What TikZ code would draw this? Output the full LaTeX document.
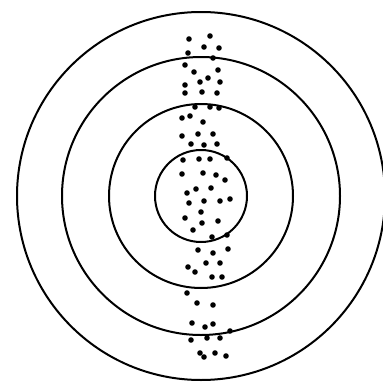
\documentclass[tikz,border=0pt]{standalone}
\usepackage{tikz}

\begin{document}
\begin{tikzpicture}[x=1pt, y=-1pt,
            ring/.style={draw=black, line width=2pt},
            hole/.style={fill=black}
          ]
          \useasboundingbox (0,0) rectangle (383,383);
          % target rings
          \coordinate (c) at (201,196);
          \foreach \r in {46,92,139,184}
            \draw[ring] (c) circle (\r);
          % shot pattern
          \foreach \px/\py in {189/39,210/36,204/47,219/48,188/53,213/58,
                185/65,194/72,218/70,200/82,208/78,220/82,185/85,185/93,
                202/92,217/93,195/107,210/107,219/108,182/118,190/116,
                203/122,182/136,198/134,213/134,191/144,204/145,217/144,
                183/160,199/159,210/159,227/158,182/174,203/173,216/175,
                225/180,187/193,196/189,211/188,189/203,204/201,220/201,
                230/199,201/212,185/218,202/223,218/221,193/230,212/237,
                227/235,198/250,213/253,228/249,188/267,195/272,206/263,
                220/263,212/277,222/277,187/293,197/303,213/305,192/323,
                205/327,213/324,230/331,191/340,207/338,220/338,200/353,
                204/357,215/353,226/356}
            \fill[hole] (\px,\py) circle (2.8);
        \end{tikzpicture}
\end{document}
